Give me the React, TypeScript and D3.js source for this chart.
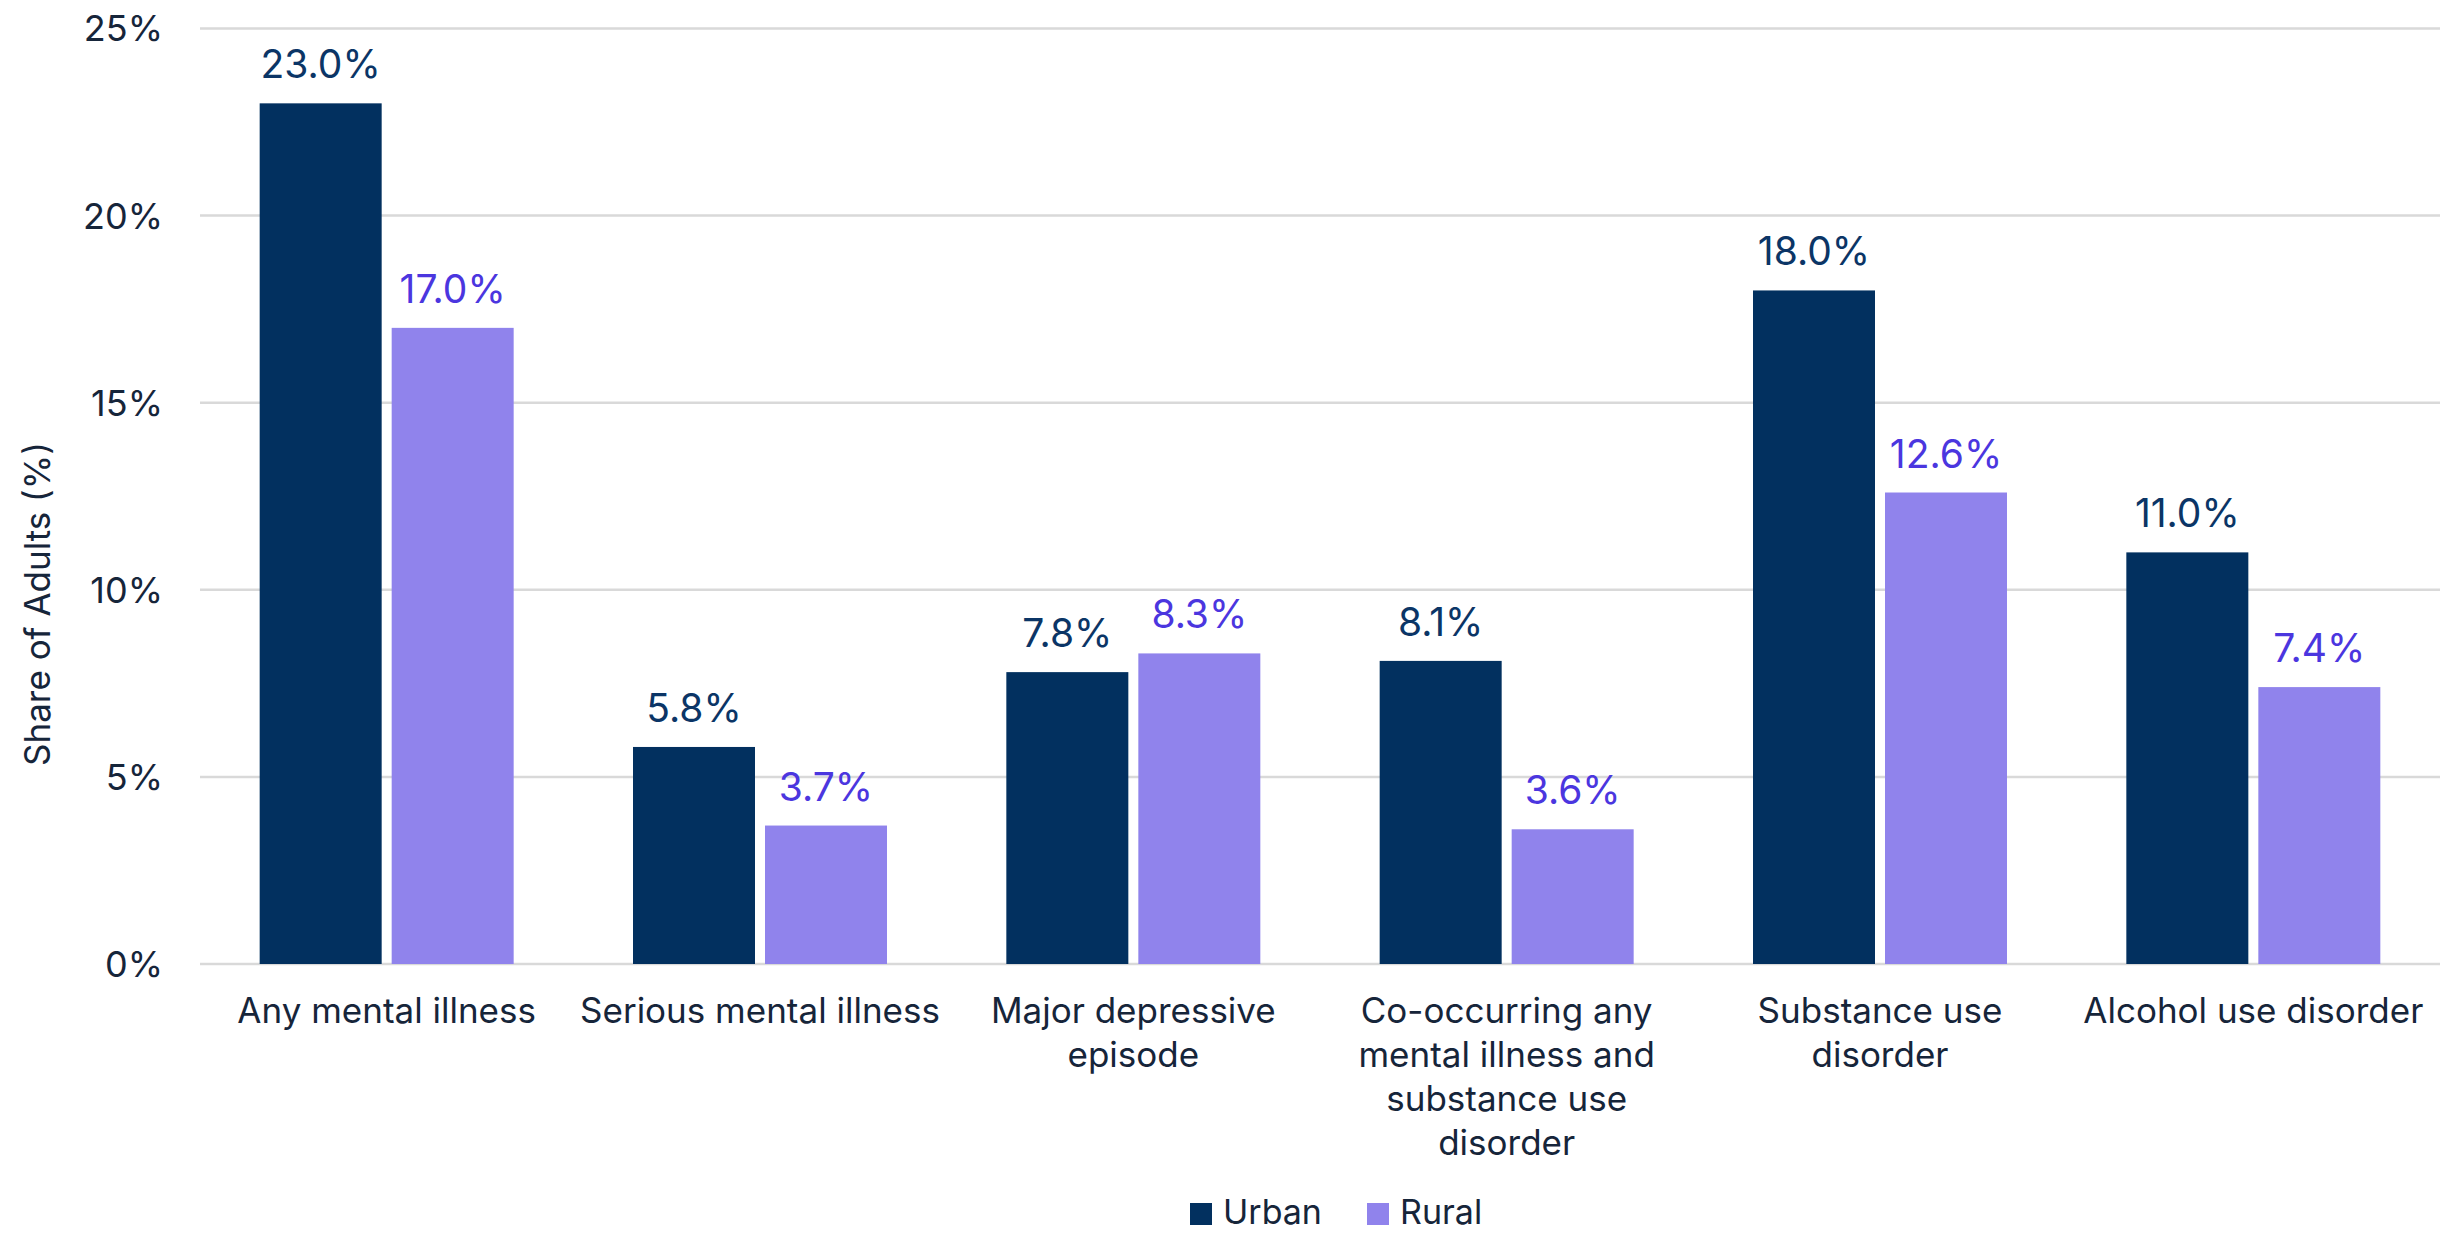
import React from "react";
import * as d3 from "d3";

const categories = [
  "Any mental illness",
  "Serious mental illness",
  "Major depressive\nepisode",
  "Co-occurring any\nmental illness and\nsubstance use\ndisorder",
  "Substance use\ndisorder",
  "Alcohol use disorder",
];
const seriesNames = ["Urban", "Rural"];
const urban = [23.0, 5.8, 7.8, 8.1, 18.0, 11.0];
const rural = [17.0, 3.7, 8.3, 3.6, 12.6, 7.4];
const yTicks = [0, 5, 10, 15, 20, 25];

const W = 2456;
const H = 1234;
const FONT = "Inter, 'DejaVu Sans', sans-serif";
const barColors = ["#02305F", "#9083EC"];
const labelColors = ["#0B3566", "#4B36DF"];
const textColor = "#16253A";

export default function App() {
  const left = 200, right = 2440, top = 28.5, bottom = 964;
  const x = d3.scaleBand<string>().domain(categories).range([left, right]);
  const y = d3.scaleLinear().domain([0, 25]).range([bottom, top]);
  const barW = 122;
  const gap = 10;
  const series = [urban, rural];

  return (
    <svg width={W} height={H} style={{ display: "block", position: "absolute", left: 0, top: 0 }} fontFamily={FONT}>
      <rect width={W} height={H} fill="#fff" />
      {yTicks.map((t) => (
        <g key={t}>
          <line x1={left} x2={right} y1={y(t)} y2={y(t)} stroke="#d9d9d9" strokeWidth={2.5} />
          <text x={163} y={y(t)} dy="0.36em" textAnchor="end" fontSize={36} fill={textColor}>
            {t}%
          </text>
        </g>
      ))}
      {categories.map((c, i) => {
        const cx = (x(c) as number) + x.bandwidth() / 2;
        return (
          <g key={c}>
            {series.map((s, si) => {
              const bx = si === 0 ? cx - gap / 2 - barW : cx + gap / 2;
              const v = s[i];
              return (
                <g key={si}>
                  <rect x={bx} y={y(v)} width={barW} height={y(0) - y(v)} fill={barColors[si]} />
                  <text x={bx + barW / 2} y={y(v) - 25} textAnchor="middle" fontSize={39} fill={labelColors[si]}>
                    {v.toFixed(1)}%
                  </text>
                </g>
              );
            })}
            {c.split("\n").map((ln, li) => (
              <text key={li} x={cx} y={1023 + li * 44} textAnchor="middle" fontSize={35} fill={textColor}>
                {ln}
              </text>
            ))}
          </g>
        );
      })}
      <text transform={`translate(50,604) rotate(-90)`} textAnchor="middle" fontSize={35} fill={textColor}>
        Share of Adults (%)
      </text>
      {seriesNames.map((n, i) => {
        const sx = i === 0 ? 1190 : 1367;
        return (
          <g key={n}>
            <rect x={sx} y={1203} width={22} height={22} fill={barColors[i]} />
            <text x={sx + 33} y={1224} fontSize={34} fill={textColor}>
              {n}
            </text>
          </g>
        );
      })}
    </svg>
  );
}
